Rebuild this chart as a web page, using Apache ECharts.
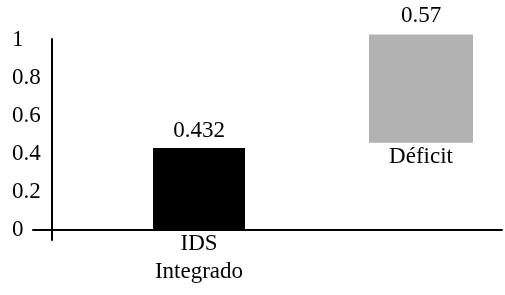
<!DOCTYPE html>
<html>
<head>
<meta charset="utf-8">
<script src="https://cdn.jsdelivr.net/npm/echarts@6/dist/echarts.min.js"></script>
<style>
html,body{margin:0;padding:0;background:#fff;}
#chart{width:505px;height:295px;}
</style>
</head>
<body>
<div id="chart"></div>
<script>
const categories = ['IDS\nIntegrado', 'Déficit'];
const idsValues = [0.432, '-'];
const deficitBase = ['-', 0.459];
const deficitValues = ['-', 0.57];
const yTickValues = [0, 0.2, 0.4, 0.6, 0.8, 1];

const FONT = 'Liberation Serif';
const FS = 23;
const chart = echarts.init(document.getElementById('chart'), null, {renderer: 'canvas'});

chart.setOption({
  animation: false,
  backgroundColor: '#fff',
  textStyle: {fontFamily: FONT, color: '#000'},
  grid: [
    {left: 88, top: 40, width: 444, height: 190, containLabel: false, outerBoundsMode: 'none'},
    {left: 33, top: 39, right: 3, bottom: 55, containLabel: false, outerBoundsMode: 'none'}
  ],
  xAxis: [
    {
      type: 'category', gridIndex: 0, data: categories,
      axisLine: {show: false}, axisTick: {show: false}, splitLine: {show: false},
      axisLabel: {
        interval: 0, margin: 0, lineHeight: 28,
        fontFamily: FONT, fontSize: FS, color: '#000',
        formatter: (v, i) => (i === 0 ? v : '')
      }
    },
    {
      type: 'value', gridIndex: 1, min: -19, max: 450,
      axisLine: {show: true, onZero: true, lineStyle: {color: '#000', width: 2}},
      axisTick: {show: false}, axisLabel: {show: false}, splitLine: {show: false}
    },
    {
      type: 'category', gridIndex: 0, data: categories, show: false
    }
  ],
  yAxis: [
    {
      type: 'value', gridIndex: 0, min: yTickValues[0], max: yTickValues[yTickValues.length - 1], interval: 0.2,
      axisLine: {show: false}, axisTick: {show: false}, splitLine: {show: false},
      axisLabel: {
        align: 'left', margin: 76, padding: [4, 0, 0, 0],
        fontFamily: FONT, fontSize: FS, color: '#000'
      }
    },
    {
      type: 'value', gridIndex: 1, min: -10, max: 191,
      axisLine: {show: true, onZero: true, lineStyle: {color: '#000', width: 2}},
      axisTick: {show: false}, axisLabel: {show: false}, splitLine: {show: false}
    }
  ],
  series: [
    {
      name: 'IDS', type: 'bar', xAxisIndex: 2, yAxisIndex: 0,
      data: idsValues, barWidth: 92,
      itemStyle: {color: '#000'},
      label: {show: true, position: 'top', distance: 5, formatter: '{c}',
        fontFamily: FONT, fontSize: FS, color: '#000'}
    },
    {
      name: 'base', type: 'bar', xAxisIndex: 0, yAxisIndex: 0, stack: 'def',
      data: deficitBase, barWidth: 104, silent: true,
      itemStyle: {color: 'rgba(0,0,0,0)'},
      label: {show: true, position: 'insideTop', distance: 3, formatter: '{b}',
        fontFamily: FONT, fontSize: FS, color: '#000'}
    },
    {
      name: 'Déficit', type: 'bar', xAxisIndex: 0, yAxisIndex: 0, stack: 'def',
      data: deficitValues, barWidth: 104, clip: false,
      itemStyle: {color: '#b2b2b2'},
      label: {show: true, position: 'top', distance: 7, formatter: '{c}',
        fontFamily: FONT, fontSize: FS, color: '#000'}
    }
  ]
});
</script>
</body>
</html>
